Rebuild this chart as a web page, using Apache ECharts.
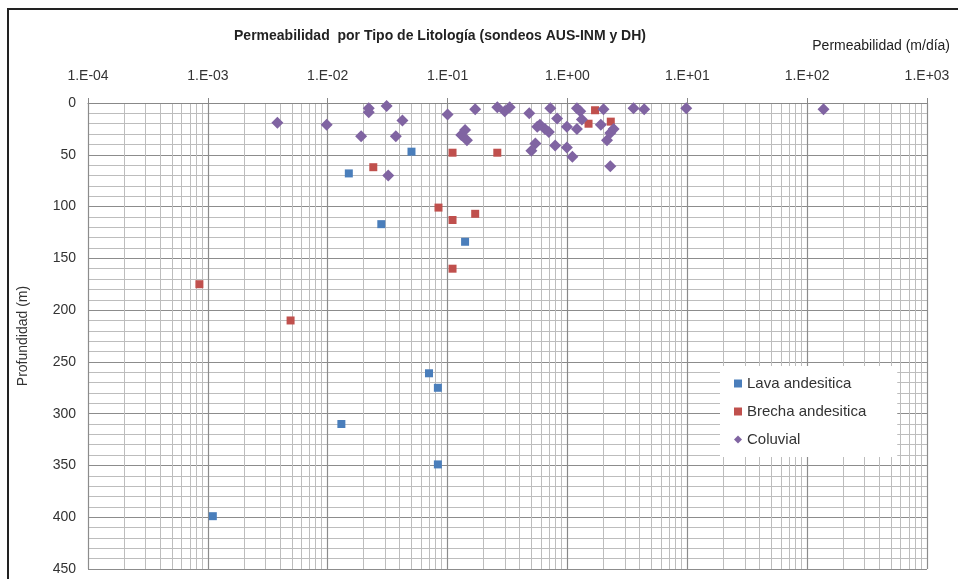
<!DOCTYPE html>
<html>
<head>
<meta charset="utf-8">
<script src="https://cdn.jsdelivr.net/npm/echarts@6/dist/echarts.min.js"></script>
<style>
  html, body { margin: 0; padding: 0; background: #fff; }
  #main { width: 958px; height: 579px; }
</style>
</head>
<body>
<div id="main"></div>
<script>
// tick labels of the permeability axis (one per decade)
var xTickLabels = ['1.E-04', '1.E-03', '1.E-02', '1.E-01', '1.E+00', '1.E+01', '1.E+02', '1.E+03'];

// Lava andesitica: permeability (m/dia) and depth (m)
var lavaPerm  = [0.050, 0.015, 0.028, 0.14, 0.070, 0.083, 0.013, 0.083, 0.0011];
var lavaDepth = [47, 68, 117, 134, 261, 275, 310, 349, 399];

// Brecha andesitica
var brechaPerm  = [1.7, 1.5, 2.3, 0.11, 0.26, 0.024, 0.084, 0.17, 0.11, 0.11, 0.00085, 0.0049];
var brechaDepth = [7, 20, 18, 48, 48, 62, 101, 107, 113, 160, 175, 210];

// Coluvial
var coluvialPerm = [0.0038, 0.0098, 0.022, 0.022, 0.031, 0.042, 0.019, 0.037, 0.032,
  0.10, 0.17, 0.14, 0.13, 0.145, 0.26, 0.30, 0.33, 0.48, 0.72, 0.82, 0.59, 0.65, 0.70,
  0.56, 0.99, 1.2, 0.54, 0.50, 0.79, 0.99, 1.1, 1.2, 1.28, 1.32, 2.0, 1.9, 2.43, 2.28,
  2.14, 2.28, 3.56, 4.37, 9.8, 137];
var coluvialDepth = [19, 21, 5, 9, 3, 17, 32, 32, 70,
  11, 6, 26, 31, 36, 4, 8, 4, 10, 5, 15, 21, 25, 28,
  23, 23, 25, 39, 46, 41, 43, 52, 5, 8, 16, 6, 21, 25, 29,
  36, 61, 5, 6, 5, 6];

function toPoints(perm, depth) {
  return perm.map(function (p, i) { return [Math.log10(p), depth[i]]; });
}

// minor vertical grid lines at 2..9 of each decade
var minorX = [];
for (var d = -4; d < 3; d++) {
  for (var k = 2; k <= 9; k++) minorX.push({ xAxis: d + Math.log10(k) });
}

var font = '"Liberation Sans", Arial, sans-serif';
var myChart = echarts.init(document.getElementById('main'));

var option = {
  backgroundColor: '#fff',
  animation: false,
  textStyle: { fontFamily: font },
  title: {
    text: 'Permeabilidad  por Tipo de Litología (sondeos AUS-INM y DH)',
    left: 435,
    textAlign: 'center',
    top: 24,
    textStyle: { fontSize: 14, fontWeight: 'bold', color: '#222', fontFamily: font }
  },
  graphic: [
    {
      type: 'rect',
      shape: { x: 8, y: 9, width: 980, height: 600 },
      style: { fill: 'none', stroke: '#222', lineWidth: 2 },
      silent: true
    },
    {
      type: 'text',
      right: 8,
      top: 39,
      style: { text: 'Permeabilidad (m/día)', fontSize: 14, fill: '#222', fontFamily: font }
    }
  ],
  legend: {
    orient: 'vertical',
    left: 720,
    top: 366,
    z: 10,
    itemGap: 13,
    itemWidth: 8,
    itemHeight: 8,
    backgroundColor: '#fff',
    padding: [10, 31, 10, 14],
    textStyle: { fontSize: 15, color: '#333' },
    data: [
      { name: 'Lava andesitica', icon: 'rect' },
      { name: 'Brecha andesitica', icon: 'rect' },
      { name: 'Coluvial', icon: 'diamond' }
    ]
  },
  grid: { left: 88, right: 31, top: 103, bottom: 10 },
  xAxis: {
    type: 'value',
    position: 'top',
    min: -4,
    max: 3,
    interval: 1,
    axisLine: { show: true, lineStyle: { color: '#888' } },
    axisTick: { show: true, inside: false, length: 5, lineStyle: { color: '#888' } },
    axisLabel: {
      margin: 20,
      fontSize: 14,
      color: '#333',
      formatter: function (v) { return xTickLabels[Math.round(v) + 4]; }
    },
    splitLine: { show: true, lineStyle: { color: '#8c8c8c', width: 1.2 } }
  },
  yAxis: {
    type: 'value',
    inverse: true,
    min: 0,
    max: 450,
    interval: 50,
    name: 'Profundidad (m)',
    nameLocation: 'middle',
    nameGap: 58,
    nameRotate: 90,
    nameTextStyle: { fontSize: 14, color: '#333' },
    axisLine: { show: true, lineStyle: { color: '#888' } },
    axisTick: { show: true, length: 5, lineStyle: { color: '#888' } },
    axisLabel: { margin: 12, fontSize: 14, color: '#333' },
    splitLine: { show: true, lineStyle: { color: '#8c8c8c', width: 1.2 } },
    minorTick: { show: false, splitNumber: 5 },
    minorSplitLine: { show: true, lineStyle: { color: '#bdbdbd', width: 1 } }
  },
  series: [
    {
      type: 'scatter',
      name: 'grid',
      data: [],
      z: 0,
      silent: true,
      markLine: {
        z: 0,
        silent: true,
        symbol: 'none',
        label: { show: false },
        emphasis: { disabled: true },
        lineStyle: { color: '#bdbdbd', type: 'solid', width: 1 },
        data: minorX
      }
    },
    {
      type: 'scatter',
      name: 'Lava andesitica',
      symbol: 'rect',
      symbolSize: 8,
      z: 5,
      itemStyle: { color: '#4a7ebb', opacity: 1 },
      data: toPoints(lavaPerm, lavaDepth)
    },
    {
      type: 'scatter',
      name: 'Brecha andesitica',
      symbol: 'rect',
      symbolSize: 8,
      z: 5,
      itemStyle: { color: '#c0504d', opacity: 1 },
      data: toPoints(brechaPerm, brechaDepth)
    },
    {
      type: 'scatter',
      name: 'Coluvial',
      symbol: 'diamond',
      symbolSize: 12,
      z: 5,
      itemStyle: { color: '#8064a2', opacity: 1 },
      data: toPoints(coluvialPerm, coluvialDepth)
    }
  ]
};

myChart.setOption(option);
</script>
</body>
</html>
